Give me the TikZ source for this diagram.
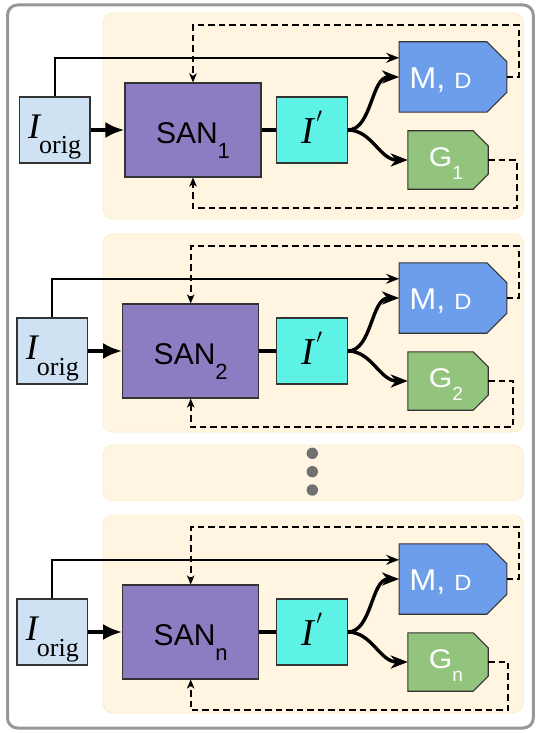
\documentclass[tikz,border=0pt]{standalone}
\usepackage{fontspec}
\setmainfont{Liberation Serif}
\setsansfont{Liberation Sans}
\usetikzlibrary{arrows.meta,calc}
\pgfdeclarelayer{bg}
\pgfsetlayers{bg,main}

\definecolor{framec}{HTML}{979797}
\definecolor{cream}{HTML}{FFF5E1}
\definecolor{creamedge}{HTML}{FCEDCB}
\definecolor{origc}{HTML}{CFE2F3}
\definecolor{sanc}{HTML}{8E7CC3}
\definecolor{ipc}{HTML}{5EF2E6}
\definecolor{mdc}{HTML}{6D9EEB}
\definecolor{gc}{HTML}{93C47D}
\definecolor{edgec}{HTML}{333333}
\definecolor{dotc}{HTML}{707070}

\tikzset{
 box/.style={draw=edgec, line width=1.1pt, inner sep=0pt, text depth=0pt},
 origbox/.style={box, fill=origc, minimum width=70.7pt, minimum height=66pt, text height=16.6pt},
 sanbox/.style={box, fill=sanc, minimum width=136pt, minimum height=94pt, text height=26.6pt, font=\fontsize{30}{30}\sffamily},
 ipbox/.style={box, fill=ipc, minimum width=70.6pt, minimum height=66pt, text height=26.6pt},
 mdbox/.style={inner sep=0pt, minimum width=107.4pt, minimum height=70pt, text=white, text height=22.6pt, text depth=0pt, font=\fontsize{30}{30}\sffamily},
 gbox/.style={inner sep=0pt, minimum width=80pt, minimum height=58pt, text=white, text height=12pt, text depth=0pt, font=\fontsize{27}{27}\sffamily},
 chamfer/.style={draw=edgec, line width=1.1pt},
 panelbg/.style={fill=cream, draw=creamedge, line width=0.8pt, rounded corners=10pt},
 thinarrow/.style={line width=2pt, -{Stealth[length=13pt,width=10pt,inset=4.5pt]}},
 fatarrow/.style={line width=4.5pt, -{Latex[length=19pt,width=16pt]}},
 fatline/.style={line width=3.8pt},
 curvearrow/.style={line width=3.4pt, -{Stealth[length=17pt,width=13pt,inset=5pt]}},
 dasharrow/.style={line width=2pt, dash pattern=on 6.5pt off 4pt, -{Stealth[length=9pt,width=7.5pt,inset=2.5pt]}},
}

% #1 id, #2 top, #3 height, #4 dashed bottom (rel), #5 subscript, #6 G dashed x, #7 left shift
\newcommand\drawpanel[7]{%
 \begin{pgfonlayer}{bg}
  \path[panelbg] (103,#2) rectangle (523.5,#2+#3);
 \end{pgfonlayer}
 \node[origbox] (io#1) at (54.65+#7,#2+117) {{\fontsize{36}{36}\selectfont\itshape I}\hspace{-1pt}\raisebox{-15.7pt}[0pt][0pt]{\fontsize{26}{26}\selectfont orig}};
 \node[sanbox] (san#1) at (193+#7,#2+117) {SAN\raisebox{-15pt}[0pt][0pt]{\fontsize{22}{22}\selectfont #5}};
 \node[ipbox] (ip#1) at (312,#2+117) {{\fontsize{38}{38}\selectfont\itshape I}\hspace{2pt}\raisebox{20.4pt}[0pt][0pt]{\fontsize{20}{20}\selectfont$\prime$}};
 \node[mdbox] (md#1) at (453,#2+64) {\scalebox{1.08}[1]{M, {\fontsize{22}{22}\selectfont D}}\hspace*{25pt}};
 \node[gbox] (g#1) at (448,#2+147) {\scalebox{1.12}[1]{G}\raisebox{-13pt}[0pt][0pt]{\fontsize{19}{19}\selectfont #5}\hspace*{4pt}};
 \begin{pgfonlayer}{bg}
  \path[chamfer, fill=mdc] (md#1.north west) -- ([xshift=-20pt]md#1.north east) -- ([yshift=-20pt]md#1.north east) -- ([yshift=20pt]md#1.south east) -- ([xshift=-20pt]md#1.south east) -- (md#1.south west) -- cycle;
  \path[chamfer, fill=gc] (g#1.north west) -- ([xshift=-15pt]g#1.north east) -- ([yshift=-15pt]g#1.north east) -- ([yshift=15pt]g#1.south east) -- ([xshift=-15pt]g#1.south east) -- (g#1.south west) -- cycle;
 \end{pgfonlayer}
 \coordinate (tr#1) at (518.5,#2+12);
 \coordinate (br#1) at (#6,#2+#4);
 \draw[thinarrow] (io#1.north) |- ([yshift=-16pt]md#1.north west);
 \draw[fatarrow] (io#1.east) -- (san#1.west);
 \draw[fatline] (san#1.east) -- (ip#1.west);
 \draw[curvearrow] (ip#1.east) .. controls +(24,0) and +(-28,0) .. (md#1.west);
 \draw[curvearrow] (ip#1.east) .. controls +(24,0) and +(-28,0) .. (g#1.west);
 \draw[dasharrow] (md#1.east) -| (tr#1) -| (san#1.north);
 \draw[dasharrow] (g#1.east) -| (br#1) -| (san#1.south);
}

\begin{document}
\begin{tikzpicture}[x=1pt,y=-1pt]
\useasboundingbox (0,0) rectangle (539,733);
\draw[framec, line width=3pt, rounded corners=10pt] (7.5,5) rectangle (533.3,728);
\drawpanel{a}{13}{206}{195}{1}{516.7}{0}
\drawpanel{b}{234}{198}{193}{2}{513.3}{-2.3}
\begin{pgfonlayer}{bg}
 \path[panelbg] (103,445) rectangle (523.5,500.7);
\end{pgfonlayer}
\fill[dotc] (312.3,453.3) circle (5.7);
\fill[dotc] (312.3,471.7) circle (5.7);
\fill[dotc] (312.3,490) circle (5.7);
\drawpanel{c}{515}{198}{195}{n}{508.3}{-2.3}
\end{tikzpicture}
\end{document}
